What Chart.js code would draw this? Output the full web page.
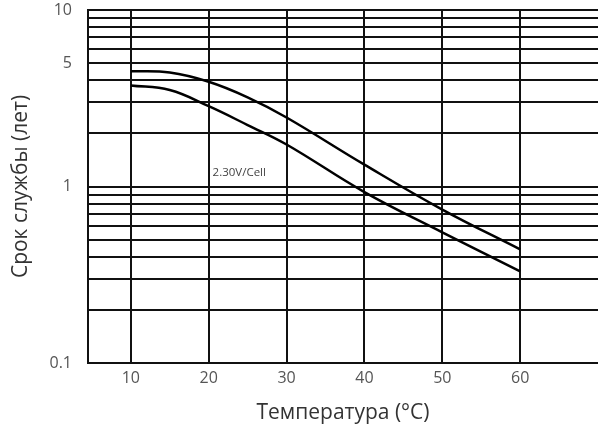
<!DOCTYPE html>
<html>
<head>
<meta charset="utf-8">
<script src="https://cdn.jsdelivr.net/npm/chart.js@4"></script>
<style>
  html, body { margin: 0; padding: 0; background: #fff; }
  #wrap { width: 598px; height: 430px; }
</style>
</head>
<body>
<div id="wrap"><canvas id="life"></canvas></div>
<script>
// Temperature points (°C)
const temps = [10, 15, 20, 25, 30, 40, 50, 60];
// Upper and lower edge of the service life band (years)
const upperLife = [4.5, 4.42, 3.92, 3.2, 2.46, 1.33, 0.74, 0.44];
const lowerLife = [3.74, 3.52, 2.85, 2.23, 1.73, 0.93, 0.55, 0.33];

// Axis ticks
const xTicks = [10, 20, 30, 40, 50, 60];
const yTicks = [0.1, 0.2, 0.3, 0.4, 0.5, 0.6, 0.7, 0.8, 0.9, 1, 2, 3, 4, 5, 6, 7, 8, 9, 10];
const yLabels = [0.1, 1, 5, 10];

const bandNote = "2.30V/Cell";
const fontFamily = "'Open Sans', 'DejaVu Sans', sans-serif";

// Draws the small voltage note inside the plot
const notePlugin = {
  id: "note",
  afterDatasetsDraw(chart) {
    const { ctx, scales } = chart;
    ctx.save();
    ctx.font = "11.5px " + fontFamily;
    ctx.fillStyle = "#444";
    ctx.textAlign = "left";
    ctx.textBaseline = "middle";
    ctx.fillText(bandNote, scales.x.getPixelForValue(20.5), scales.y.getPixelForValue(1.2));
    ctx.restore();
  },
};

const lineStyle = {
  borderColor: "#000",
  borderWidth: 2.5,
  pointRadius: 0,
  fill: false,
  tension: 0.4,
};

new Chart(document.getElementById("life"), {
  type: "line",
  plugins: [notePlugin],
  data: {
    datasets: [
      { ...lineStyle, data: temps.map((t, i) => ({ x: t, y: upperLife[i] })) },
      { ...lineStyle, data: temps.map((t, i) => ({ x: t, y: lowerLife[i] })) },
    ],
  },
  options: {
    responsive: true,
    maintainAspectRatio: false,
    animation: false,
    layout: { padding: { top: 10, right: 0, bottom: 0, left: 0 } },
    plugins: {
      legend: { display: false },
      tooltip: { enabled: false },
    },
    scales: {
      x: {
        type: "linear",
        min: 4.5,
        max: 70,
        afterBuildTicks: (scale) => {
          scale.ticks = xTicks.map((v) => ({ value: v }));
        },
        afterFit: (scale) => {
          scale.height = 67;
        },
        grid: { color: "#111", lineWidth: 2, drawTicks: false },
        border: { color: "#111", width: 2 },
        ticks: {
          autoSkip: false,
          padding: 6,
          color: "#555",
          font: { family: fontFamily, size: 16 },
        },
        title: {
          display: true,
          text: "Температура (°C)",
          color: "#333",
          font: { family: fontFamily, size: 21 },
        },
      },
      y: {
        type: "logarithmic",
        min: 0.1,
        max: 10,
        afterBuildTicks: (scale) => {
          scale.ticks = yTicks.map((v) => ({ value: v }));
        },
        afterFit: (scale) => {
          scale.width = 88;
          scale.paddingTop = 0;
          scale.paddingBottom = 0;
        },
        grid: { color: "#111", lineWidth: 2, drawTicks: false },
        border: { color: "#111", width: 2 },
        ticks: {
          autoSkip: false,
          padding: 16,
          color: "#555",
          font: { family: fontFamily, size: 16 },
          callback: (value) => (yLabels.includes(value) ? String(value) : ""),
        },
        title: {
          display: true,
          text: "Срок службы (лет)",
          color: "#333",
          padding: { top: 8, bottom: 0 },
          font: { family: fontFamily, size: 21 },
        },
      },
    },
  },
});
</script>
</body>
</html>
